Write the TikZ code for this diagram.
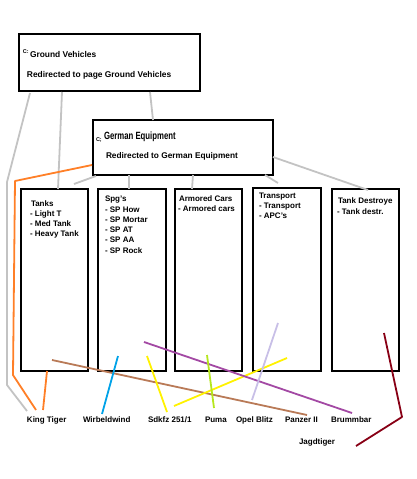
\documentclass[tikz,border=0pt]{standalone}
\usepackage{fontspec}
\setmainfont{Liberation Sans}
\definecolor{lgray}{RGB}{195,195,195}
\definecolor{porange}{RGB}{255,127,39}
\definecolor{pblue}{RGB}{0,162,232}
\definecolor{pyellow}{RGB}{255,242,0}
\definecolor{ppurple}{RGB}{163,73,164}
\definecolor{plime}{RGB}{181,230,29}
\definecolor{plav}{RGB}{200,191,231}
\definecolor{pbrown}{RGB}{185,122,87}
\definecolor{pdred}{RGB}{136,0,21}
\begin{document}
\begin{tikzpicture}[x=1pt,y=-1pt,
  box/.style={draw=black,line width=2.6pt,inner sep=0pt,outer sep=0pt,anchor=north west},
  txt/.style={anchor=base west,inner sep=0pt,outer sep=0pt,font=\bfseries\fontsize{8}{9}\selectfont},
  tiny/.style={anchor=base west,inner sep=0pt,outer sep=0pt,font=\bfseries\fontsize{5.5}{6}\selectfont},
  wire/.style={line width=1.8pt,line join=round}]
\useasboundingbox (0,0) rectangle (417,479);
% boxes
\node[box,minimum width=181pt,minimum height=57pt] (gv) at (19,34) {};
\node[box,minimum width=180pt,minimum height=55pt] (ge) at (93,120) {};
\node[box,minimum width=67pt,minimum height=182pt] (tanks) at (21,189) {};
\node[box,minimum width=68pt,minimum height=182pt] (spg) at (98,189) {};
\node[box,minimum width=67pt,minimum height=182pt] (ac) at (175,189) {};
\node[box,minimum width=68pt,minimum height=183pt] (tr) at (253,188) {};
\node[box,minimum width=67pt,minimum height=182pt] (td) at (332,189) {};
% texts in boxes
\node[tiny] (gvc) at (23,53) {C:};
\node[txt,font=\bfseries\fontsize{8.4}{9}\selectfont] (gvt) at (30,57) {Ground Vehicles};
\node[txt,font=\bfseries\fontsize{8.4}{9}\selectfont] (gvr) at (27,77) {Redirected to page Ground Vehicles};
\node[tiny] (gec) at (96,141) {C;};
\node[txt] (get) at (104,139) {\scalebox{0.74}[1]{\bfseries\fontsize{10.5}{12}\selectfont German Equipment}};
\node[txt,font=\bfseries\fontsize{8.3}{9}\selectfont] (ger) at (106,158) {Redirected to German Equipment};
\node[txt] (t1) at (31,206) {Tanks};
\node[txt] (t2) at (30,216) {- Light T};
\node[txt] (t3) at (30,226) {- Med Tank};
\node[txt] (t4) at (30,236) {- Heavy Tank};
\node[txt] (s1) at (105,201) {Spg's};
\node[txt] (s2) at (105,212) {- SP How};
\node[txt] (s3) at (105,222) {- SP Mortar};
\node[txt] (s4) at (105,232) {- SP AT};
\node[txt] (s5) at (105,242) {- SP AA};
\node[txt] (s6) at (105,253) {- SP Rock};
\node[txt] (a1) at (179,201) {Armored Cars};
\node[txt] (a2) at (178,211.5) {- Armored cars};
\node[txt] (r1) at (259,198) {Transport};
\node[txt] (r2) at (259,208) {- Transport};
\node[txt] (r3) at (259,218) {- APC's};
\node[txt] (d1) at (338,203) {Tank Destroye};
\node[txt] (d2) at (337,214) {- Tank destr.};
% bottom labels
\node[txt] (kt) at (27,422) {King Tiger};
\node[txt] (wb) at (83,422) {Wirbeldwind};
\node[txt] (sd) at (148,422) {Sdkfz 251/1};
\node[txt] (pu) at (205,422) {Puma};
\node[txt] (ob) at (236,422) {Opel Blitz};
\node[txt] (pz) at (285,422) {Panzer II};
\node[txt] (bb) at (331,422) {Brummbar};
\node[txt] (jt) at (299,444) {Jagdtiger};
% coordinates
\coordinate (g1) at (30,93); \coordinate (g1a) at (7,182); \coordinate (g1b) at (7,385); \coordinate (g1c) at (27,411);
\coordinate (g2) at (62,92); \coordinate (g2e) at (58,189);
\coordinate (g3) at (150,92); \coordinate (g3e) at (153,120);
\coordinate (g4) at (96,176); \coordinate (g4e) at (74,184);
\coordinate (g5) at (129,175); \coordinate (g5e) at (129,189);
\coordinate (g6) at (193,175); \coordinate (g6e) at (192,189);
\coordinate (g7) at (265,175); \coordinate (g7e) at (278,183);
\coordinate (g8) at (273,157); \coordinate (g8e) at (368,190);
\coordinate (o1) at (92,165); \coordinate (o1a) at (15,181); \coordinate (o1b) at (13,375); \coordinate (o1c) at (36,410);
\coordinate (o2) at (47,371); \coordinate (o2e) at (43,410);
\coordinate (br1) at (52,360); \coordinate (br2) at (307,415);
\coordinate (bl1) at (118,356); \coordinate (bl2) at (102,414);
\coordinate (y1) at (147,356); \coordinate (y2) at (167,412);
\coordinate (y3) at (174,406); \coordinate (y4) at (287,358);
\coordinate (pp1) at (144,342); \coordinate (pp2) at (352,413);
\coordinate (gr1) at (207,355); \coordinate (gr2) at (214,408);
\coordinate (lv1) at (278,323); \coordinate (lv2) at (252,400);
\coordinate (dr1) at (384,333); \coordinate (dr2) at (402,417); \coordinate (dr3) at (356,446);
% connectors
\draw[wire,lgray] (g1) -- (g1a) -- (g1b) -- (g1c);
\draw[wire,lgray] (g2) -- (g2e);
\draw[wire,lgray] (g3) -- (g3e);
\draw[wire,lgray] (g4) -- (g4e);
\draw[wire,lgray] (g5) -- (g5e);
\draw[wire,lgray] (g6) -- (g6e);
\draw[wire,lgray] (g7) -- (g7e);
\draw[wire,lgray] (g8) -- (g8e);
\draw[wire,porange] (o1) -- (o1a) -- (o1b) -- (o1c);
\draw[wire,porange] (o2) -- (o2e);
\draw[wire,pbrown] (br1) -- (br2);
\draw[wire,pblue] (bl1) -- (bl2);
\draw[wire,pyellow] (y1) -- (y2);
\draw[wire,pyellow] (y3) -- (y4);
\draw[wire,ppurple] (pp1) -- (pp2);
\draw[wire,plime] (gr1) -- (gr2);
\draw[wire,plav] (lv1) -- (lv2);
\draw[wire,pdred] (dr1) -- (dr2) -- (dr3);
\end{tikzpicture}
\end{document}
